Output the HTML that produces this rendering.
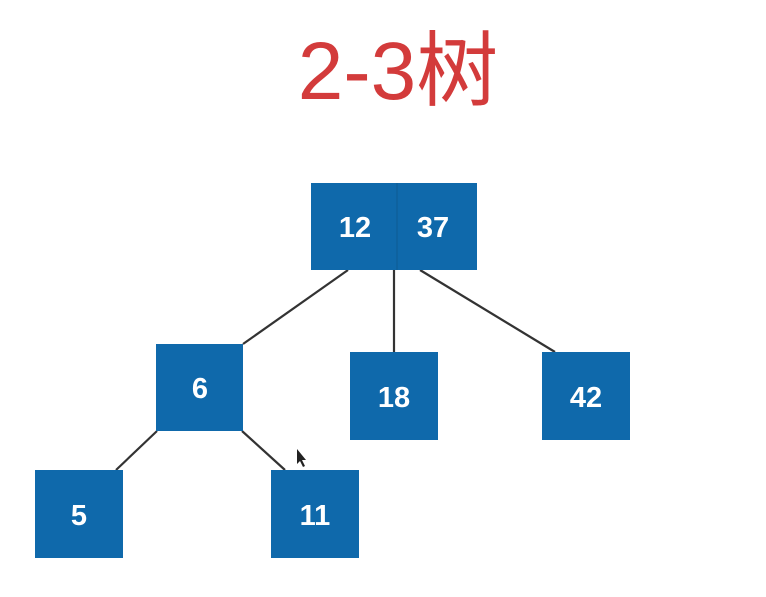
<!DOCTYPE html>
<html><head><meta charset="utf-8"><style>
html,body{margin:0;padding:0;background:#fff;width:766px;height:597px;overflow:hidden}
</style></head><body>
<svg width="766" height="597" xmlns="http://www.w3.org/2000/svg">
<text x="398" y="99" text-anchor="middle" font-family="Liberation Sans, Noto Sans CJK SC, sans-serif" font-size="82" fill="#d33b3b">2-3树</text>
<g stroke="#333" stroke-width="2.2">
<line x1="348" y1="270" x2="243" y2="344"/>
<line x1="394" y1="270" x2="394" y2="352"/>
<line x1="420" y1="270" x2="555" y2="352"/>
<line x1="157" y1="431" x2="116" y2="470"/>
<line x1="242" y1="431" x2="285" y2="470"/>
</g>
<g fill="#0f69ab">
<rect x="311" y="183" width="166" height="87"/>
<rect x="156" y="344" width="87" height="87"/>
<rect x="350" y="352" width="88" height="88"/>
<rect x="542" y="352" width="88" height="88"/>
<rect x="35" y="470" width="88" height="88"/>
<rect x="271" y="470" width="88" height="88"/>
</g>
<line x1="397" y1="183" x2="397" y2="270" stroke="#0c5a93" stroke-width="1"/>
<g fill="#fff" font-family="Liberation Sans, sans-serif" font-weight="bold" font-size="29" text-anchor="middle">
<text x="355" y="237">12</text>
<text x="433" y="237">37</text>
<text x="200" y="398">6</text>
<text x="394" y="407">18</text>
<text x="586" y="407">42</text>
<text x="79" y="525">5</text>
<text x="315" y="525">11</text>
</g>
<path d="M297 449 L297 464 L300 461 L303 467 L305 466 L302 460 L306 460 Z" fill="#222"/>
</svg>
</body></html>
